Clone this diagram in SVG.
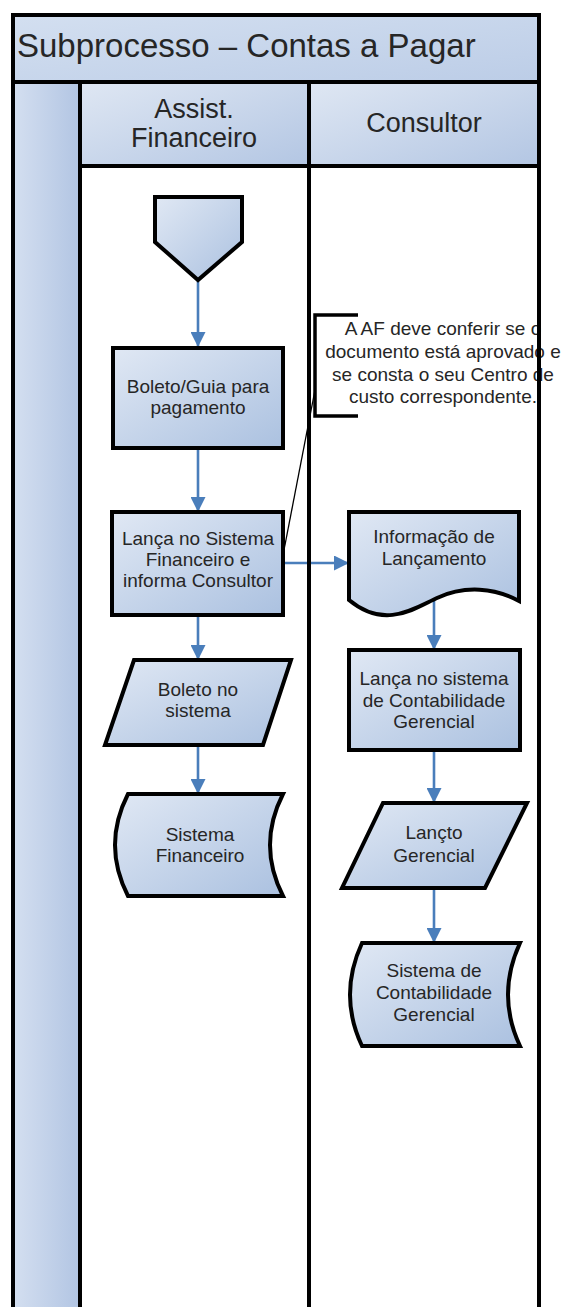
<svg xmlns="http://www.w3.org/2000/svg" width="564" height="1307" viewBox="0 0 564 1307">
<defs>
<linearGradient id="gNode" x1="0" y1="0" x2="1" y2="1">
<stop offset="0" stop-color="#e0e8f4"/>
<stop offset="1" stop-color="#abc1e0"/>
</linearGradient>
<linearGradient id="gHead" x1="0" y1="0" x2="1" y2="1">
<stop offset="0" stop-color="#dfe7f3"/>
<stop offset="1" stop-color="#b3c6e3"/>
</linearGradient>
<linearGradient id="gTitle" x1="0" y1="0" x2="1" y2="1">
<stop offset="0" stop-color="#d3dff0"/>
<stop offset="1" stop-color="#bccde7"/>
</linearGradient>
<linearGradient id="gCol" x1="0" y1="0" x2="1" y2="0">
<stop offset="0" stop-color="#d4dff0"/>
<stop offset="1" stop-color="#b2c5e3"/>
</linearGradient>
<marker id="ah" viewBox="0 0 15 15" refX="15" refY="7.5" markerWidth="15" markerHeight="15" markerUnits="userSpaceOnUse" orient="auto">
<path d="M0,0 L15,7.5 L0,15 Z" fill="#4a7ebb"/>
</marker>
<style>
text{font-family:"Liberation Sans",Arial,sans-serif;fill:#262626;text-anchor:middle}
.t{font-size:19px}
.h{font-size:27px}
.shape{fill:url(#gNode);stroke:#000;stroke-width:4;stroke-linejoin:miter}
.lane{fill:none;stroke:#000;stroke-width:4}
.conn{fill:none;stroke:#4a7ebb;stroke-width:2.6;marker-end:url(#ah)}
</style>
</defs>
<rect x="0" y="0" width="564" height="1307" fill="#fff"/>
<g id="swimlanes">
<rect x="13" y="15" width="526" height="67" fill="url(#gTitle)"/>
<rect x="13" y="82" width="67" height="1230" fill="url(#gCol)"/>
<rect x="80" y="82" width="229" height="84" fill="url(#gHead)"/>
<rect x="309" y="82" width="230" height="84" fill="url(#gHead)"/>
<text x="17" y="57" style="font-size:33px;text-anchor:start">Subprocesso – Contas a Pagar</text>
<text class="h" x="194" y="118">Assist.</text>
<text class="h" x="194" y="147">Financeiro</text>
<text class="h" x="424" y="132">Consultor</text>
</g>
<g id="connectors">
<line class="conn" x1="198" y1="281" x2="198" y2="347"/>
<line class="conn" x1="198" y1="448" x2="198" y2="512"/>
<line class="conn" x1="198" y1="615" x2="198" y2="660"/>
<line class="conn" x1="198" y1="745" x2="198" y2="794"/>
<line class="conn" x1="283" y1="563" x2="349" y2="563"/>
<line class="conn" x1="434" y1="598" x2="434" y2="650"/>
<line class="conn" x1="434" y1="750" x2="434" y2="803"/>
<line class="conn" x1="434" y1="888" x2="434" y2="943"/>
<line x1="315" y1="390" x2="284" y2="550" stroke="#000" stroke-width="1.3"/>
</g>
<g id="start">
<path class="shape" d="M155,197 H242 V242 L198,280 L155,242 Z"/>
</g>
<g id="boleto-guia">
<rect class="shape" x="113" y="348" width="170" height="100"/>
<text class="t" x="198" y="393">Boleto/Guia para</text>
<text class="t" x="198" y="414">pagamento</text>
</g>
<g id="lanca-sistema-financeiro">
<rect class="shape" x="112" y="512" width="171" height="103"/>
<text class="t" x="198" y="545">Lança no Sistema</text>
<text class="t" x="198" y="566">Financeiro e</text>
<text class="t" x="198" y="587">informa Consultor</text>
</g>
<g id="boleto-no-sistema">
<path class="shape" d="M134,660 H291 L263,745 H105 Z"/>
<text class="t" x="198" y="696">Boleto no</text>
<text class="t" x="198" y="717">sistema</text>
</g>
<g id="sistema-financeiro">
<path class="shape" d="M128,794 H283 Q257,845 283,896 H128 Q102,845 128,794 Z"/>
<text class="t" x="200" y="841">Sistema</text>
<text class="t" x="200" y="862">Financeiro</text>
</g>
<g id="informacao-lancamento">
<path class="shape" d="M349,512 H519 V601 C495,588 465,585 437,598 C415,608 385,630 349,600 Z"/>
<text class="t" x="434" y="543">Informação de</text>
<text class="t" x="434" y="565">Lançamento</text>
</g>
<g id="lanca-contabilidade">
<rect class="shape" x="349" y="650" width="171" height="100"/>
<text class="t" x="434" y="685">Lança no sistema</text>
<text class="t" x="434" y="707">de Contabilidade</text>
<text class="t" x="434" y="728">Gerencial</text>
</g>
<g id="lancto-gerencial">
<path class="shape" d="M383,803 H527 L485,888 H342 Z"/>
<text class="t" x="434" y="839">Lançto</text>
<text class="t" x="434" y="862">Gerencial</text>
</g>
<g id="sistema-contabilidade">
<path class="shape" d="M362,943 H520 Q496,995 520,1046 H362 Q338,995 362,943 Z"/>
<text class="t" x="434" y="977">Sistema de</text>
<text class="t" x="434" y="999">Contabilidade</text>
<text class="t" x="434" y="1021">Gerencial</text>
</g>
<g id="annotation">
<path d="M358,315 H315 V416 H358" fill="none" stroke="#000" stroke-width="3.5"/>
<text class="t" x="443" y="335">A AF deve conferir se o</text>
<text class="t" x="443" y="358">documento está aprovado e</text>
<text class="t" x="443" y="381">se consta o seu Centro de</text>
<text class="t" x="443" y="403">custo correspondente.</text>
</g>
<g id="lane-lines">
<path class="lane" d="M13,1312 V15 H539 V1312"/>
<line class="lane" x1="13" y1="82" x2="539" y2="82"/>
<line class="lane" x1="80" y1="82" x2="80" y2="1312"/>
<line class="lane" x1="309" y1="82" x2="309" y2="1312"/>
<line class="lane" x1="80" y1="166" x2="539" y2="166"/>
</g>
</svg>
